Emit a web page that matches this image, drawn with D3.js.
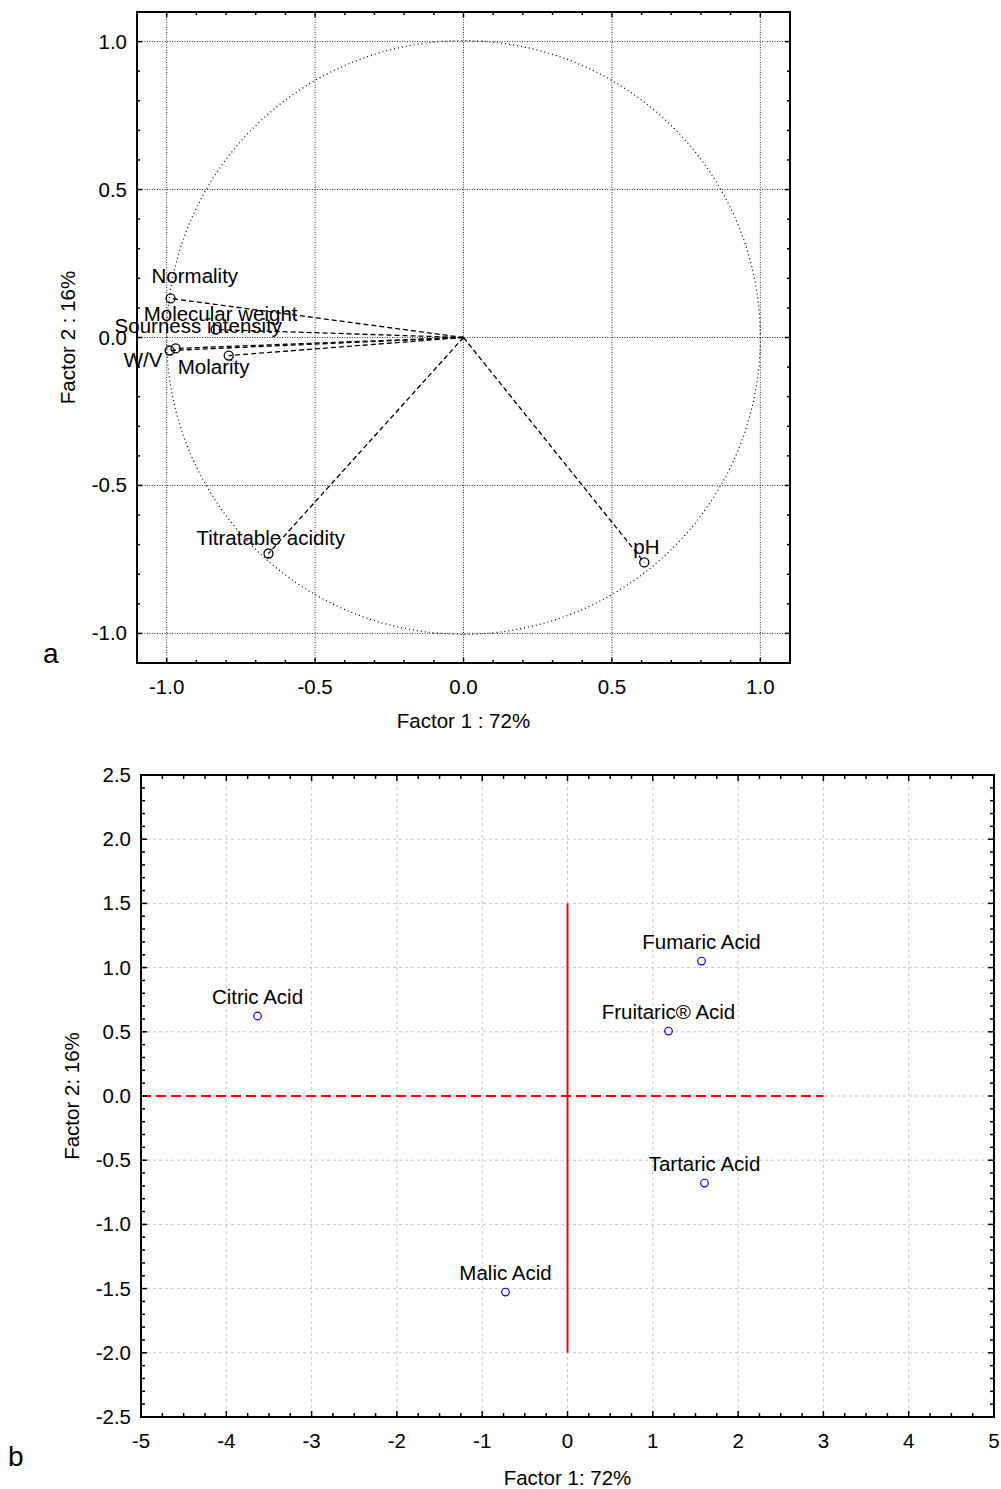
<!DOCTYPE html>
<html>
<head>
<meta charset="utf-8">
<script src="https://cdn.jsdelivr.net/npm/d3@7"></script>
<style>
  body { margin: 0; background: #fff; }
  svg { display: block; font-family: "Liberation Sans", Arial, sans-serif; }
</style>
</head>
<body>
<svg id="chart" width="1001" height="1489"></svg>
<script>
// panel a: variable loadings
const varNames = ["Normality", "Molecular weight", "Sourness intensity", "W/V", "Molarity", "Titratable acidity", "pH"];
const loadF1 = [-0.987, -0.835, -0.970, -0.990, -0.791, -0.657, 0.609];
const loadF2 = [0.132, 0.027, -0.037, -0.044, -0.061, -0.730, -0.760];
const loadTicks = [-1.0, -0.5, 0.0, 0.5, 1.0];

// panel b: acid scores
const acids = ["Citric Acid", "Fumaric Acid", "Fruitaric\u00AE Acid", "Tartaric Acid", "Malic Acid"];
const scoreF1 = [-3.634, 1.571, 1.184, 1.606, -0.727];
const scoreF2 = [0.623, 1.051, 0.506, -0.678, -1.527];
const scoreXTicks = [-5, -4, -3, -2, -1, 0, 1, 2, 3, 4, 5];
const scoreYTicks = [-2.5, -2.0, -1.5, -1.0, -0.5, 0.0, 0.5, 1.0, 1.5, 2.0, 2.5];

const FS = 20.5;
const svg = d3.select("#chart");

// ---------- panel a ----------
const a = { left: 137, top: 12, width: 653, height: 651 };
const ga = svg.append("g").attr("transform", "translate(" + a.left + "," + a.top + ")");
const xa = d3.scaleLinear().domain([-1.1, 1.1]).range([0, a.width]);
const ya = d3.scaleLinear().domain([-1.1, 1.1]).range([a.height, 0]);
const minorA = d3.range(-1.1, 1.1001, 0.1).map(v => Math.round(v * 10) / 10);

// grid
ga.selectAll(".gx").data(loadTicks).enter().append("line")
  .attr("x1", d => xa(d)).attr("x2", d => xa(d)).attr("y1", 0).attr("y2", a.height)
  .attr("stroke", "#333").attr("stroke-width", 1).attr("stroke-dasharray", "1,1.5");
ga.selectAll(".gy").data(loadTicks).enter().append("line")
  .attr("y1", d => ya(d)).attr("y2", d => ya(d)).attr("x1", 0).attr("x2", a.width)
  .attr("stroke", "#333").attr("stroke-width", 1).attr("stroke-dasharray", "1,1.5");

// unit circle
ga.append("circle").attr("cx", xa(0)).attr("cy", ya(0)).attr("r", xa(1) - xa(0))
  .attr("fill", "none").attr("stroke", "#000").attr("stroke-width", 1.2).attr("stroke-dasharray", "1,3");

// ticks (inward)
const isMajorA = v => loadTicks.some(m => Math.abs(m - v) < 1e-6);
minorA.forEach(v => {
  const len = isMajorA(v) ? 5 : 3;
  const px = xa(v), py = ya(v);
  ga.append("line").attr("x1", px).attr("x2", px).attr("y1", a.height).attr("y2", a.height - len).attr("stroke", "#000").attr("stroke-width", 1.5);
  ga.append("line").attr("x1", px).attr("x2", px).attr("y1", 0).attr("y2", len).attr("stroke", "#000").attr("stroke-width", 1.5);
  ga.append("line").attr("x1", 0).attr("x2", len).attr("y1", py).attr("y2", py).attr("stroke", "#000").attr("stroke-width", 1.5);
  ga.append("line").attr("x1", a.width).attr("x2", a.width - len).attr("y1", py).attr("y2", py).attr("stroke", "#000").attr("stroke-width", 1.5);
});

ga.append("rect").attr("width", a.width).attr("height", a.height)
  .attr("fill", "none").attr("stroke", "#000").attr("stroke-width", 2);

// tick labels
ga.selectAll(".tlx").data(loadTicks).enter().append("text")
  .attr("x", d => xa(d)).attr("y", a.height + 31).attr("text-anchor", "middle")
  .attr("font-size", FS).text(d => d.toFixed(1));
ga.selectAll(".tly").data(loadTicks).enter().append("text")
  .attr("x", -10).attr("y", d => ya(d) + 7).attr("text-anchor", "end")
  .attr("font-size", FS).text(d => d.toFixed(1));

// loading vectors
const loadIdx = d3.range(varNames.length);
ga.selectAll(".vec").data(loadIdx).enter().append("line")
  .attr("x1", xa(0)).attr("y1", ya(0))
  .attr("x2", i => xa(loadF1[i])).attr("y2", i => ya(loadF2[i]))
  .attr("stroke", "#000").attr("stroke-width", 1.3).attr("stroke-dasharray", "5,3");
ga.selectAll(".pt").data(loadIdx).enter().append("circle")
  .attr("cx", i => xa(loadF1[i])).attr("cy", i => ya(loadF2[i])).attr("r", 4.5)
  .attr("fill", "none").attr("stroke", "#000").attr("stroke-width", 1.3);

// label offsets (px) relative to the point
const labOff = [[-19, -15], [-72, -9], [-61, -15], [-46, 16], [-51, 18], [-72, -9], [-11, -8]];
ga.selectAll(".lab").data(loadIdx).enter().append("text")
  .attr("x", i => xa(loadF1[i]) + labOff[i][0]).attr("y", i => ya(loadF2[i]) + labOff[i][1])
  .attr("font-size", FS).text(i => varNames[i]);

ga.append("text").attr("x", a.width / 2).attr("y", a.height + 65).attr("text-anchor", "middle")
  .attr("font-size", FS).text("Factor 1 : 72%");
ga.append("text").attr("transform", "translate(-62," + (a.height / 2) + ") rotate(-90)")
  .attr("text-anchor", "middle").attr("font-size", FS).text("Factor 2 : 16%");
svg.append("text").attr("x", 43).attr("y", 663).attr("font-size", 28).text("a");

// ---------- panel b ----------
const b = { left: 141, top: 775, width: 853, height: 642 };
const gb = svg.append("g").attr("transform", "translate(" + b.left + "," + b.top + ")");
const xb = d3.scaleLinear().domain([-5, 5]).range([0, b.width]);
const yb = d3.scaleLinear().domain([-2.5, 2.5]).range([b.height, 0]);

gb.selectAll(".gx").data(scoreXTicks).enter().append("line")
  .attr("x1", d => xb(d)).attr("x2", d => xb(d)).attr("y1", 0).attr("y2", b.height)
  .attr("stroke", "#c8c8c8").attr("stroke-width", 1).attr("stroke-dasharray", "3,3");
gb.selectAll(".gy").data(scoreYTicks).enter().append("line")
  .attr("y1", d => yb(d)).attr("y2", d => yb(d)).attr("x1", 0).attr("x2", b.width)
  .attr("stroke", "#c8c8c8").attr("stroke-width", 1).attr("stroke-dasharray", "3,3");

// reference lines
gb.append("line").attr("x1", xb(-5)).attr("x2", xb(3)).attr("y1", yb(0)).attr("y2", yb(0))
  .attr("stroke", "#ff0000").attr("stroke-width", 2).attr("stroke-dasharray", "10,5");
gb.append("line").attr("x1", xb(0)).attr("x2", xb(0)).attr("y1", yb(1.5)).attr("y2", yb(-2.0))
  .attr("stroke", "#ff0000").attr("stroke-width", 2);

// ticks
const minorBX = d3.range(-5, 5.001, 0.25);
const minorBY = d3.range(-2.5, 2.5001, 0.1).map(v => Math.round(v * 10) / 10);
minorBX.forEach(v => {
  const len = Number.isInteger(v) ? 6 : 4;
  const px = xb(v);
  gb.append("line").attr("x1", px).attr("x2", px).attr("y1", b.height).attr("y2", b.height - len).attr("stroke", "#000").attr("stroke-width", 1.5);
  gb.append("line").attr("x1", px).attr("x2", px).attr("y1", 0).attr("y2", len).attr("stroke", "#000").attr("stroke-width", 1.5);
});
minorBY.forEach(v => {
  const len = scoreYTicks.some(m => Math.abs(m - v) < 1e-6) ? 6 : 4;
  const py = yb(v);
  gb.append("line").attr("x1", 0).attr("x2", len).attr("y1", py).attr("y2", py).attr("stroke", "#000").attr("stroke-width", 1.5);
  gb.append("line").attr("x1", b.width).attr("x2", b.width - len).attr("y1", py).attr("y2", py).attr("stroke", "#000").attr("stroke-width", 1.5);
});
gb.append("rect").attr("width", b.width).attr("height", b.height)
  .attr("fill", "none").attr("stroke", "#000").attr("stroke-width", 2);

gb.selectAll(".tlx").data(scoreXTicks).enter().append("text")
  .attr("x", d => xb(d)).attr("y", b.height + 31).attr("text-anchor", "middle")
  .attr("font-size", FS).text(d => d);
gb.selectAll(".tly").data(scoreYTicks).enter().append("text")
  .attr("x", -10).attr("y", d => yb(d) + 7).attr("text-anchor", "end")
  .attr("font-size", FS).text(d => d.toFixed(1));

const acidIdx = d3.range(acids.length);
gb.selectAll(".pt").data(acidIdx).enter().append("circle")
  .attr("cx", i => xb(scoreF1[i])).attr("cy", i => yb(scoreF2[i])).attr("r", 3.8)
  .attr("fill", "none").attr("stroke", "#0000ff").attr("stroke-width", 1.2);
gb.selectAll(".lab").data(acidIdx).enter().append("text")
  .attr("x", i => xb(scoreF1[i])).attr("y", i => yb(scoreF2[i]) - 12)
  .attr("text-anchor", "middle").attr("font-size", FS).text(i => acids[i]);

gb.append("text").attr("x", xb(0)).attr("y", b.height + 68).attr("text-anchor", "middle")
  .attr("font-size", FS).text("Factor 1: 72%");
gb.append("text").attr("transform", "translate(-62," + yb(0) + ") rotate(-90)")
  .attr("text-anchor", "middle").attr("font-size", FS).text("Factor 2: 16%");
svg.append("text").attr("x", 8).attr("y", 1466).attr("font-size", 28).text("b");
</script>
</body>
</html>
